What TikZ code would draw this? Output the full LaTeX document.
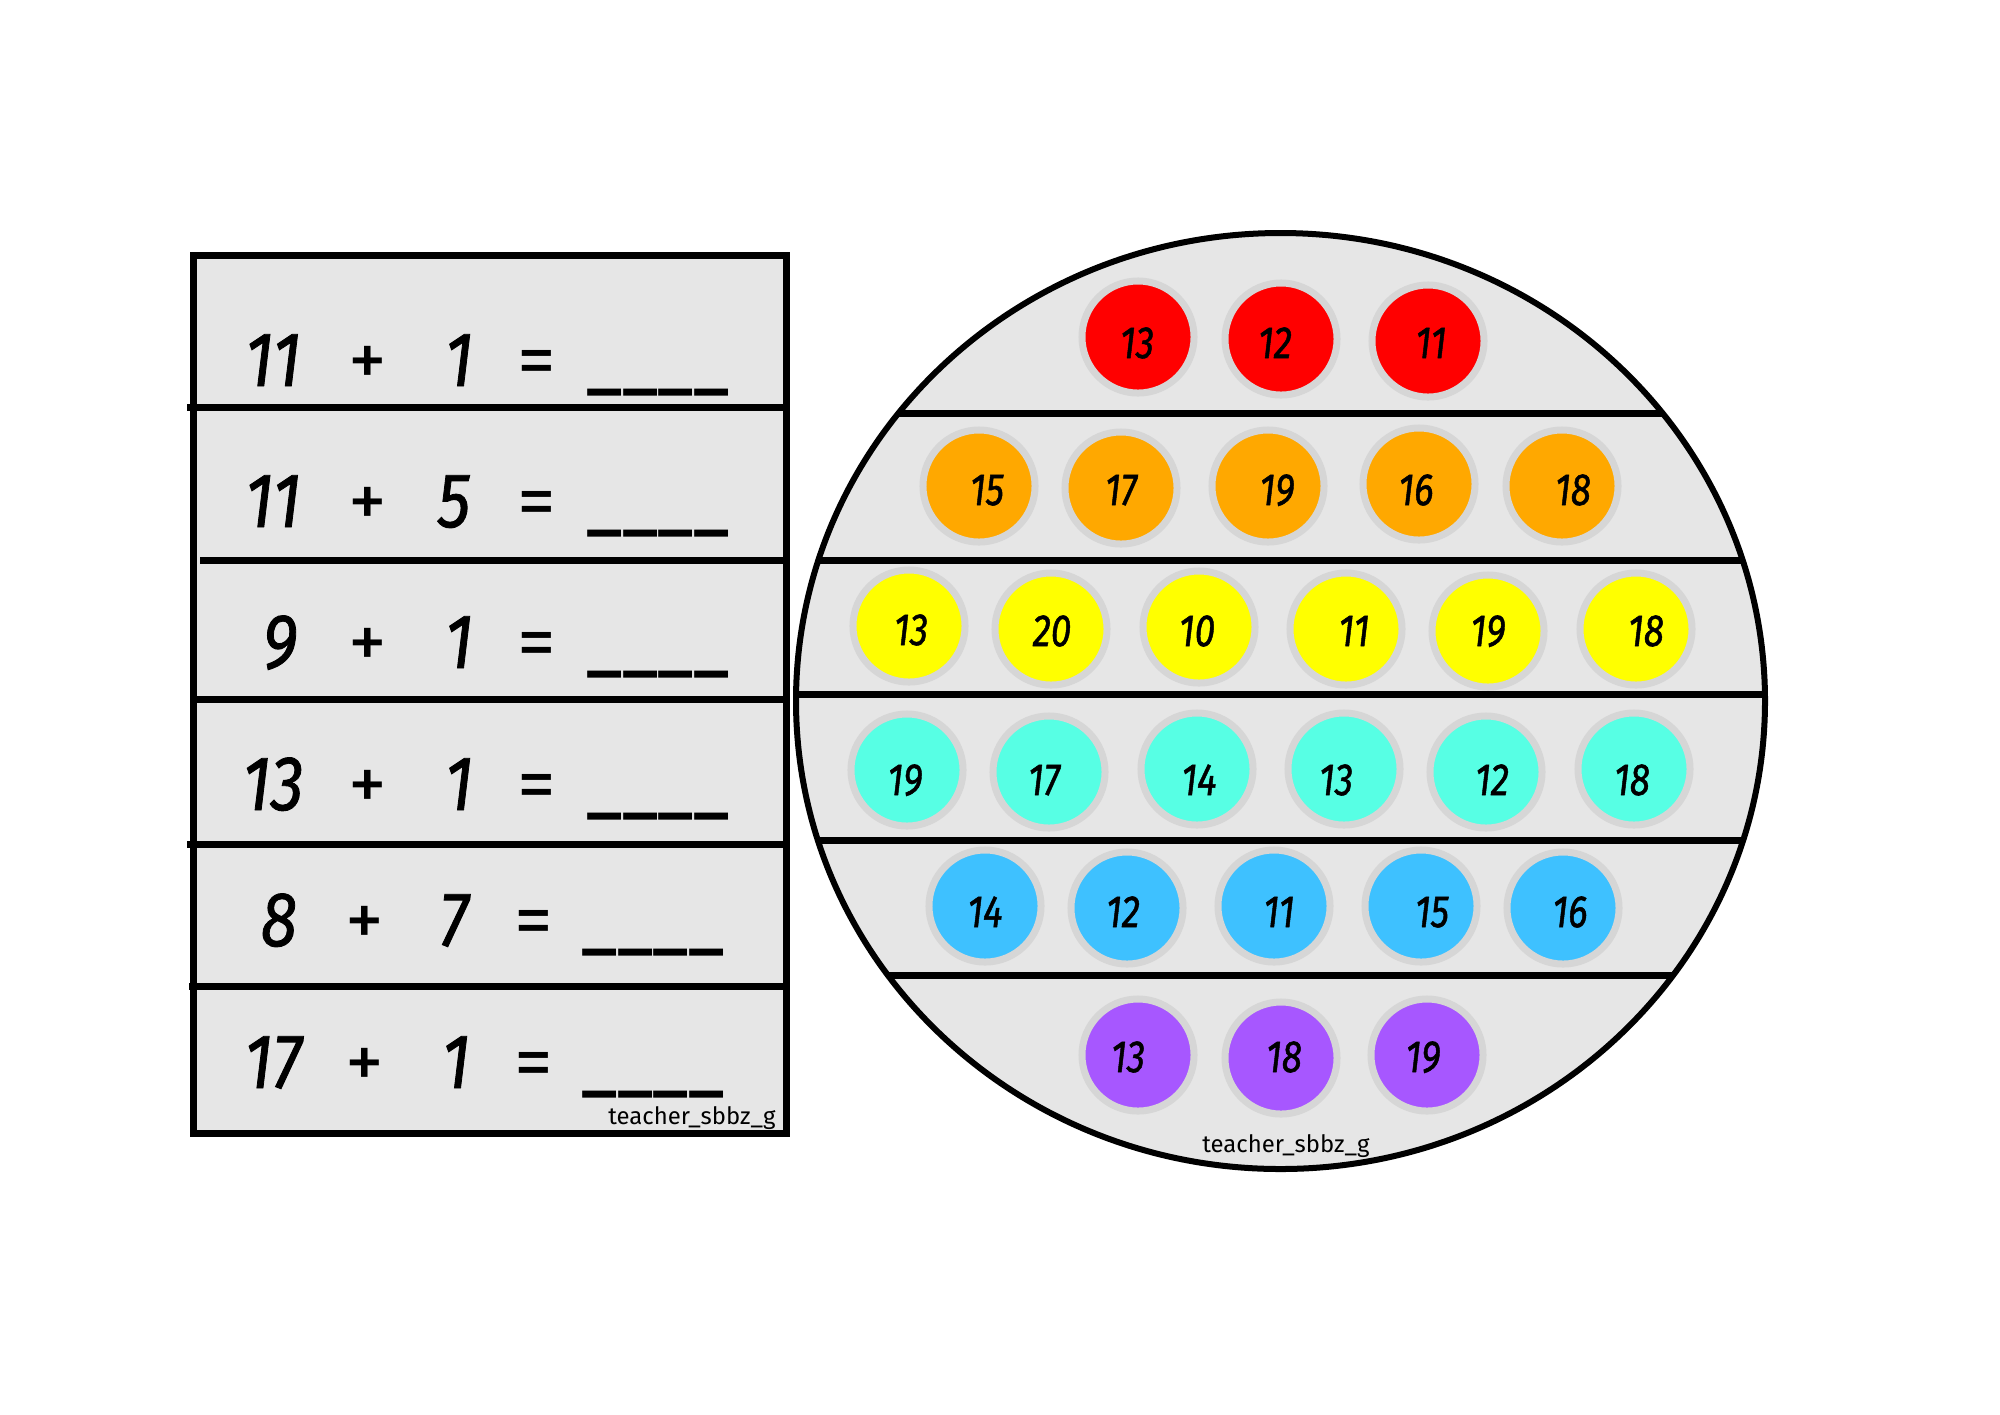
\documentclass[tikz,border=0pt]{standalone}
\usepackage{graphicx}
\usepackage{fontspec}
\setmainfont{Fira Sans}
\newfontfamily\numfont{Fira Sans}[ItalicFeatures={FakeBold=1.2}]
\usetikzlibrary{calc}
\definecolor{panel}{HTML}{E6E6E6}
\definecolor{halo}{HTML}{D6D6D6}
\definecolor{cred}{HTML}{FF0000}
\definecolor{corange}{HTML}{FFA800}
\definecolor{cyellow}{HTML}{FFFF00}
\definecolor{cturq}{HTML}{57FFE4}
\definecolor{cblue}{HTML}{3EC1FF}
\definecolor{cpurple}{HTML}{A757FF}
\newcommand\nar[1]{\scalebox{0.86}[1]{#1}}
\newcommand\bnar[1]{\scalebox{0.82}[1]{#1}}
\newcommand\blanks{\scalebox{0.9}[1.15]{\_\_\_\_}}
\tikzset{
 frame/.style={line width=0.07cm, draw=black},
 rim/.style={line width=0.06cm, draw=black},
 ball/.style={circle, draw=halo, line width=0.07cm, minimum size=1.12cm, inner sep=0pt},
 balltext/.style={anchor=base, inner sep=0pt, font=\fontsize{12.8}{14}\selectfont\numfont\itshape},
 eqnum/.style={anchor=base, inner sep=0pt, font=\fontsize{22}{26}\selectfont\numfont\itshape},
 eqop/.style={anchor=base, inner sep=0pt, font=\fontsize{22}{26}\selectfont},
 blank/.style={anchor=base, inner sep=0pt, font=\fontsize{22}{26}\selectfont},
 credit/.style={anchor=base, inner sep=0pt, font=\fontsize{6.8}{8}\selectfont},
}
\newcommand\mkball[7]{%
 \node[ball, fill=#4] (#1) at (#2,#3) {};
 \node[balltext] (#1t) at (#6,#7) {\bnar{#5}};}
\newcommand\mkeq[9]{%
 \node[eqnum] (#1a) at (#2,#3) {\nar{#4}};
 \node[eqop] (#1p) at (#5,#3) {+};
 \node[eqnum] (#1b) at (#6,#3) {\nar{#7}};
 \node[eqop] (#1e) at (#8,#3) {=};
 \node[blank] (#1u) at (#9,#3-3) {\blanks};}
\begin{document}
\begin{tikzpicture}[x=0.01cm,y=-0.01cm]
\useasboundingbox (0,0) rectangle (2000,1414);
\fill[white] (0,0) rectangle (2000,1414);
% left worksheet
\draw[frame, fill=panel] (193,255) rectangle (786,1133);
\draw[frame] (187,407) -- (783,407);
\draw[frame] (200,560) -- (783,560);
\draw[frame] (197,699) -- (783,699);
\draw[frame] (187,844) -- (783,844);
\draw[frame] (189,986) -- (783,986);
\mkeq{q1}{273}{386}{11}{368}{459}{1}{537}{658}
\mkeq{q2}{273}{527}{11}{368}{454}{5}{537}{658}
\mkeq{q3}{280}{668}{9}{368}{459}{1}{537}{658}
\mkeq{q4}{273}{810}{13}{368}{459}{1}{537}{658}
\mkeq{q5}{279}{946}{8}{365}{454}{7}{534}{653}
\mkeq{q6}{273}{1088}{17}{365}{456}{1}{534}{653}
\node[credit] (c1) at (692,1124) {teacher\_sbbz\_g};
% pop-it egg
\fill[panel] (1280.5,701) ellipse [x radius=484.5, y radius=468];
\begin{scope}
\clip (1280.5,701) ellipse [x radius=484.5, y radius=468];
\draw[frame] (780,413) -- (1790,413);
\draw[frame] (780,560) -- (1790,560);
\draw[frame] (780,694) -- (1790,694);
\draw[frame] (780,840) -- (1790,840);
\draw[frame] (780,975) -- (1790,975);
\end{scope}
\draw[rim] (1280.5,701) ellipse [x radius=484.5, y radius=468];
% red
\mkball{r1}{1138}{337}{cred}{13}{1137}{358}
\mkball{r2}{1281}{339}{cred}{12}{1275}{358}
\mkball{r3}{1428}{341}{cred}{11}{1431}{358}
% orange
\mkball{o1}{979}{486}{corange}{15}{987}{505}
\mkball{o2}{1121}{488}{corange}{17}{1121}{505}
\mkball{o3}{1268}{486}{corange}{19}{1277}{505}
\mkball{o4}{1419}{484}{corange}{16}{1416}{505}
\mkball{o5}{1562}{486}{corange}{18}{1573}{505}
% yellow
\mkball{y1}{909}{626}{cyellow}{13}{911}{645}
\mkball{y2}{1051}{629}{cyellow}{20}{1052}{646}
\mkball{y3}{1199}{627}{cyellow}{10}{1197}{646}
\mkball{y4}{1346}{629}{cyellow}{11}{1354}{646}
\mkball{y5}{1488}{631}{cyellow}{19}{1488}{646}
\mkball{y6}{1636}{629}{cyellow}{18}{1646}{646}
% turquoise
\mkball{t1}{907}{770}{cturq}{19}{905}{795}
\mkball{t2}{1049}{772}{cturq}{17}{1044}{795}
\mkball{t3}{1197}{769}{cturq}{14}{1199}{795}
\mkball{t4}{1344}{769}{cturq}{13}{1336}{795}
\mkball{t5}{1486}{772}{cturq}{12}{1492}{795}
\mkball{t6}{1634}{769}{cturq}{18}{1632}{795}
% blue
\mkball{b1}{985}{906}{cblue}{14}{985}{927}
\mkball{b2}{1127}{908}{cblue}{12}{1123}{927}
\mkball{b3}{1274}{906}{cblue}{11}{1279}{927}
\mkball{b4}{1421}{906}{cblue}{15}{1432}{927}
\mkball{b5}{1563}{908}{cblue}{16}{1570}{927}
% purple
\mkball{p1}{1138}{1055}{cpurple}{13}{1128}{1072}
\mkball{p2}{1281}{1058}{cpurple}{18}{1284}{1072}
\mkball{p3}{1427}{1055}{cpurple}{19}{1423}{1072}
\node[credit] (c2) at (1286,1152) {teacher\_sbbz\_g};
\end{tikzpicture}
\end{document}
